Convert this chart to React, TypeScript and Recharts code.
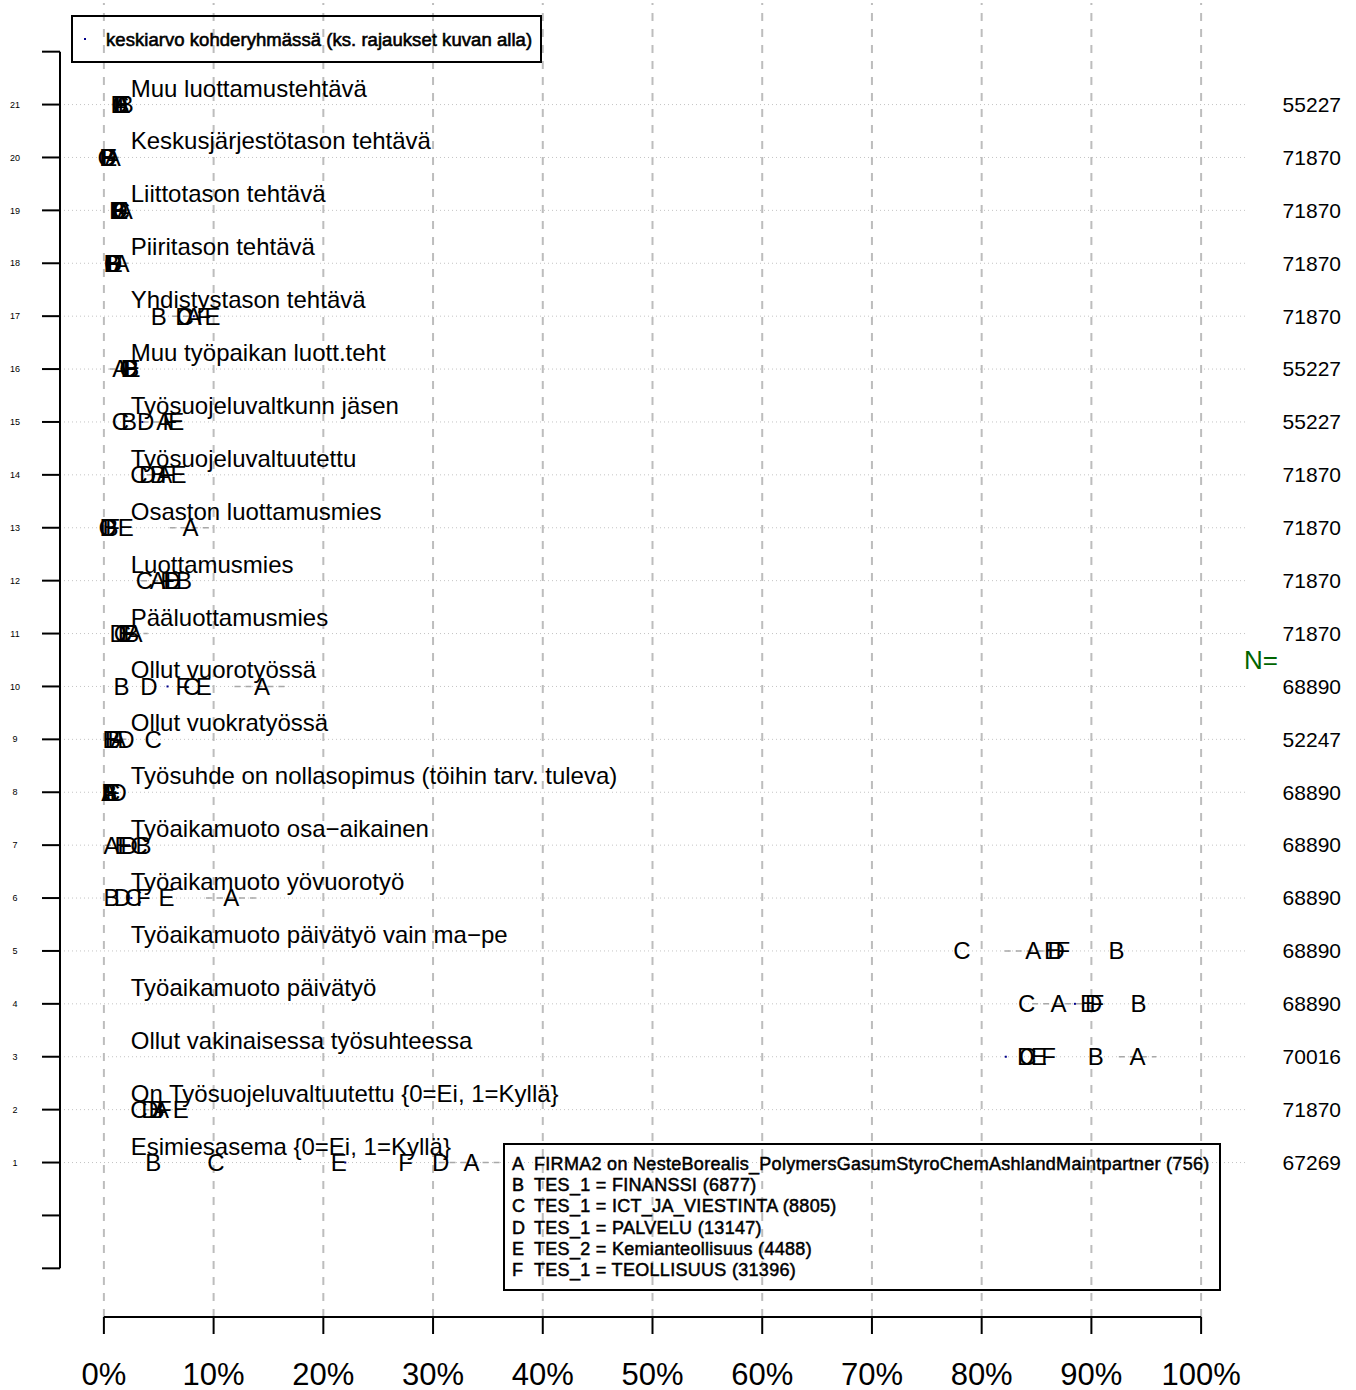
import React from 'react'
import { ScatterChart, Scatter, XAxis, YAxis, ReferenceLine } from 'recharts'

const FONT = '"Liberation Sans", Arial, sans-serif'

// rows are numbered from the bottom (1) to the top (21)
const ROWS = [1, 2, 3, 4, 5, 6, 7, 8, 9, 10, 11, 12, 13, 14, 15, 16, 17, 18, 19, 20, 21]
const ROW_LABELS = [
  'Esimiesasema {0=Ei, 1=Kyllä}',
  'On Työsuojeluvaltuutettu {0=Ei, 1=Kyllä}',
  'Ollut vakinaisessa työsuhteessa',
  'Työaikamuoto päivätyö',
  'Työaikamuoto päivätyö vain ma−pe',
  'Työaikamuoto yövuorotyö',
  'Työaikamuoto osa−aikainen',
  'Työsuhde on nollasopimus (töihin tarv. tuleva)',
  'Ollut vuokratyössä',
  'Ollut vuorotyössä',
  'Pääluottamusmies',
  'Luottamusmies',
  'Osaston luottamusmies',
  'Työsuojeluvaltuutettu',
  'Työsuojeluvaltkunn jäsen',
  'Muu työpaikan luott.teht',
  'Yhdistystason tehtävä',
  'Piiritason tehtävä',
  'Liittotason tehtävä',
  'Keskusjärjestötason tehtävä',
  'Muu luottamustehtävä',
]
const N_VALUES = [67269, 71870, 70016, 68890, 68890, 68890, 68890, 68890, 52247, 68890, 71870,
  71870, 71870, 71870, 55227, 55227, 71870, 71870, 71870, 71870, 55227]

// percentages per group, row 1 .. row 21
const A_VALUES = [33.5, 5.2, 94.2, 87.0, 84.7, 11.6, 0.7, 0.5, 1.3, 14.4, 2.8, 4.9, 7.9, 5.5, 5.5, 1.5, 8.2, 1.6, 1.9, 0.8, 1.6]
const B_VALUES = [4.5, 4.8, 90.4, 94.3, 92.3, 0.7, 3.6, 0.5, 0.8, 1.6, 2.5, 7.3, 0.6, 4.9, 2.3, 2.5, 5.0, 0.7, 1.2, 0.3, 2.0]
const C_VALUES = [10.2, 3.2, 84.2, 84.1, 78.2, 2.7, 3.2, 0.7, 4.5, 8.0, 1.7, 3.7, 0.3, 3.2, 1.5, 2.2, 7.4, 0.8, 1.6, 0.2, 1.5]
const D_VALUES = [30.7, 4.2, 84.0, 90.2, 86.8, 1.7, 2.3, 1.3, 2.0, 4.1, 1.3, 6.2, 0.4, 4.0, 3.8, 2.3, 7.3, 0.9, 1.4, 0.4, 1.4]
const E_VALUES = [21.4, 7.0, 85.2, 89.7, 86.4, 5.7, 1.7, 0.6, 0.6, 9.1, 2.0, 6.3, 2.0, 6.8, 6.6, 2.6, 9.9, 1.0, 1.5, 0.5, 1.7]
const F_VALUES = [27.5, 5.5, 86.1, 90.5, 87.4, 3.6, 1.9, 0.8, 1.0, 7.2, 2.2, 5.8, 0.8, 5.8, 6.0, 2.4, 9.1, 0.9, 1.4, 0.4, 1.5]
const MEAN_VALUES = [22.0, 5.0, 82.2, 88.5, 86.0, 2.5, 2.3, 0.8, 1.2, 5.8, 2.0, 5.8, 0.8, 5.2, 3.5, 2.3, 8.2, 0.9, 1.5, 0.4, 1.6]
// interval of group A (dashed grey)
const A_LOW = [30.5, 3.6, 92.5, 84.6, 82.1, 9.3, 0.1, 0.0, 0.5, 11.9, 1.6, 3.4, 6.0, 3.9, 3.5, 0.5, 6.2, 0.7, 0.9, 0.2, 0.7]
const A_HIGH = [36.5, 6.8, 95.9, 89.4, 87.3, 13.9, 1.3, 1.0, 2.1, 16.9, 4.0, 6.6, 9.8, 7.1, 7.5, 2.5, 10.2, 2.5, 2.9, 1.4, 2.5]

const X_TICKS = [0, 10, 20, 30, 40, 50, 60, 70, 80, 90, 100]
const Y_TICKS = [-1, 0, 1, 2, 3, 4, 5, 6, 7, 8, 9, 10, 11, 12, 13, 14, 15, 16, 17, 18, 19, 20, 21, 22]
const X_DOMAIN = [-4, 104]
const Y_DOMAIN = [-1.92, 22.92]
const LABEL_X = 2.45

const GROUPS = [
  { key: 'A', values: A_VALUES, text: 'FIRMA2 on NesteBorealis_PolymersGasumStyroChemAshlandMaintpartner (756)' },
  { key: 'B', values: B_VALUES, text: 'TES_1 = FINANSSI (6877)' },
  { key: 'C', values: C_VALUES, text: 'TES_1 = ICT_JA_VIESTINTA (8805)' },
  { key: 'D', values: D_VALUES, text: 'TES_1 = PALVELU (13147)' },
  { key: 'E', values: E_VALUES, text: 'TES_2 = Kemianteollisuus (4488)' },
  { key: 'F', values: F_VALUES, text: 'TES_1 = TEOLLISUUS (31396)' },
]

const letterShape = (letter: string) => (props: any) => (
  <text x={props.cx} y={props.cy} dy="0.35em" textAnchor="middle" fontSize={24} fontFamily={FONT} fill="#000">
    {letter}
  </text>
)

const labelShape = (props: any) => (
  <text x={props.cx} y={props.cy - 8} textAnchor="start" fontSize={24} fontFamily={FONT} fill="#000">
    {props.payload.label}
  </text>
)

const meanShape = (props: any) => <rect x={props.cx - 1} y={props.cy - 1} width={2} height={2} fill="#00008b" />

const LeftTick = (props: any) => {
  const v = props.payload.value
  if (v < 1 || v > 21) return null
  return (
    <text x={props.x - 27} y={props.y} dy="0.35em" textAnchor="middle" fontSize={9} fontFamily={FONT} fill="#000">
      {v}
    </text>
  )
}

const RightTick = (props: any) => (
  <text x={props.x + 96} y={props.y} dy="0.35em" textAnchor="end" fontSize={21} fontFamily={FONT} fill="#000">
    {N_VALUES[props.payload.value - 1]}
  </text>
)

export default function App() {
  const labelData = ROWS.map((r, i) => ({ x: LABEL_X, y: r, label: ROW_LABELS[i] }))
  const meanData = ROWS.map((r, i) => ({ x: MEAN_VALUES[i], y: r }))

  return (
    <div style={{ position: 'absolute', left: 0, top: 0, width: 1356, height: 1390, background: '#fff', fontFamily: FONT }}>
      <ScatterChart width={1356} height={1390} margin={{ top: 3, right: 0, bottom: 0, left: 0 }}>
        <XAxis
          type="number"
          dataKey="x"
          domain={X_DOMAIN}
          ticks={X_TICKS}
          allowDataOverflow
          height={73}
          axisLine={false}
          tickSize={17}
          tickMargin={29}
          tickLine={{ stroke: '#000', strokeWidth: 2 }}
          tick={{ fontSize: 31, fill: '#000', fontFamily: FONT }}
          tickFormatter={(v: number) => `${v}%`}
          interval={0}
        />
        <YAxis
          yAxisId="left"
          type="number"
          dataKey="y"
          domain={Y_DOMAIN}
          ticks={Y_TICKS}
          allowDataOverflow
          width={60}
          axisLine={false}
          tickSize={18}
          tickMargin={0}
          tickLine={{ stroke: '#000', strokeWidth: 2 }}
          tick={<LeftTick />}
          interval={0}
        />
        <YAxis
          yAxisId="right"
          orientation="right"
          type="number"
          domain={Y_DOMAIN}
          ticks={ROWS}
          allowDataOverflow
          width={111}
          axisLine={false}
          tickLine={false}
          tickSize={0}
          tickMargin={0}
          tick={<RightTick />}
          interval={0}
        />
        {X_TICKS.map((t) => (
          <ReferenceLine key={`v${t}`} yAxisId="left" x={t} stroke="#bdbdbd" strokeWidth={2} strokeDasharray="8 8" />
        ))}
        {ROWS.map((r) => (
          <ReferenceLine key={`h${r}`} yAxisId="left" y={r} stroke="#c4c4c4" strokeWidth={1} strokeDasharray="1 3" />
        ))}
        {ROWS.map((r, i) => (
          <ReferenceLine
            key={`ci${r}`}
            yAxisId="left"
            segment={[{ x: A_LOW[i], y: r }, { x: A_HIGH[i], y: r }]}
            stroke="#a8a8a8"
            strokeWidth={1.5}
            strokeDasharray="6 5"
          />
        ))}
        <ReferenceLine
          yAxisId="left"
          segment={[{ x: X_DOMAIN[0], y: -1 }, { x: X_DOMAIN[0], y: 22 }]}
          stroke="#000"
          strokeWidth={2}
          ifOverflow="visible"
        />
        <ReferenceLine
          yAxisId="left"
          segment={[{ x: 0, y: Y_DOMAIN[0] }, { x: 100, y: Y_DOMAIN[0] }]}
          stroke="#000"
          strokeWidth={2}
          ifOverflow="visible"
        />
        <Scatter yAxisId="left" data={labelData} shape={labelShape} isAnimationActive={false} />
        <Scatter yAxisId="left" data={meanData} shape={meanShape} isAnimationActive={false} />
        {GROUPS.map((g) => (
          <Scatter
            key={g.key}
            yAxisId="left"
            name={g.key}
            data={ROWS.map((r, i) => ({ x: g.values[i], y: r }))}
            shape={letterShape(g.key)}
            isAnimationActive={false}
          />
        ))}
      </ScatterChart>

      <div
        style={{
          position: 'absolute', left: 71, top: 15, width: 471, height: 48, border: '2px solid #000',
          boxSizing: 'border-box',
        }}
      >
        <div style={{ position: 'absolute', left: 11, top: 21, width: 2, height: 2, background: '#00008b' }} />
        <div
          style={{
            position: 'absolute', left: 33, top: 12, fontSize: 18.5, lineHeight: '22px', whiteSpace: 'nowrap',
            letterSpacing: 0.05, WebkitTextStroke: '0.6px #000', color: '#000',
          }}
        >
          keskiarvo kohderyhmässä (ks. rajaukset kuvan alla)
        </div>
      </div>

      <div
        style={{
          position: 'absolute', left: 503, top: 1143, width: 718, height: 148, border: '2px solid #000',
          boxSizing: 'border-box',
        }}
      >
        {GROUPS.map((g, i) => (
          <div
            key={g.key}
            style={{
              position: 'absolute', left: 0, top: 9 + i * 21.2, height: 21, width: 716, fontSize: 18,
              lineHeight: '21px', whiteSpace: 'nowrap', letterSpacing: 0.3, WebkitTextStroke: '0.5px #000', color: '#000',
            }}
          >
            <span style={{ position: 'absolute', left: 7 }}>{g.key}</span>
            <span style={{ position: 'absolute', left: 29 }}>{g.text}</span>
          </div>
        ))}
      </div>

      <div style={{ position: 'absolute', left: 1244, top: 645, fontSize: 26, color: '#006400', lineHeight: '30px' }}>N=</div>
    </div>
  )
}
